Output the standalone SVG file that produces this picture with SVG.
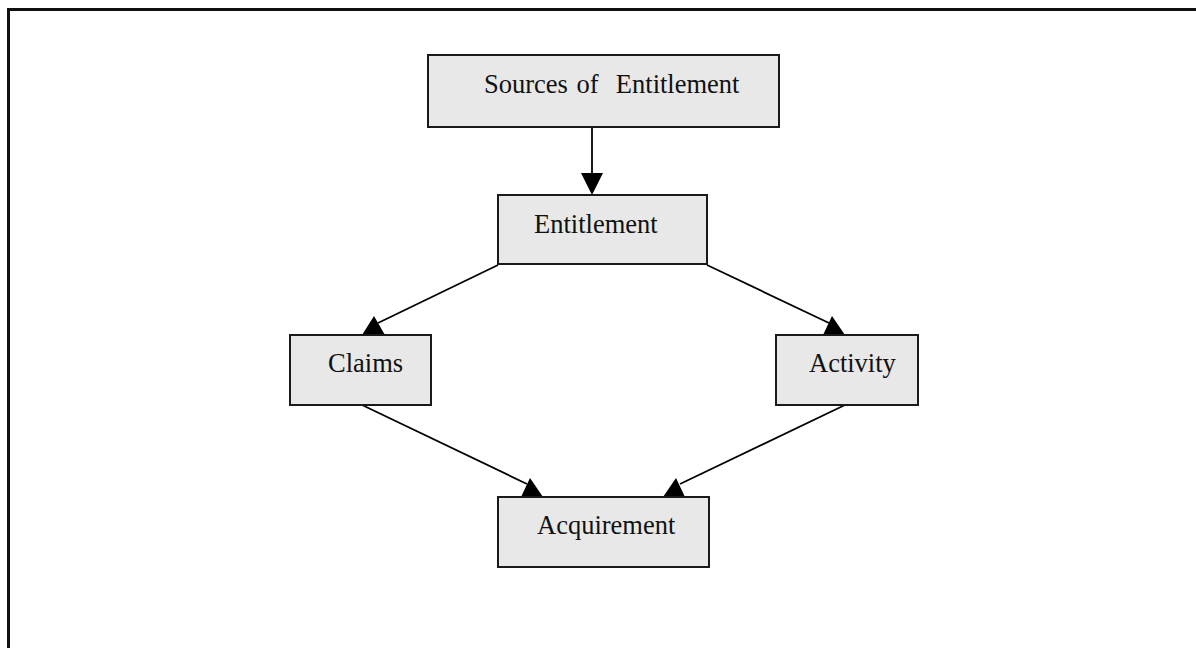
<svg xmlns="http://www.w3.org/2000/svg" width="1196" height="648" viewBox="0 0 1196 648">
<style>
.box{fill:#e8e8e8;stroke:#1a1a1a;stroke-width:2}
.lbl{font-family:"Liberation Serif","Times New Roman",serif;font-size:26.5px;fill:#111}
.ln{stroke:#000;stroke-width:1.8;fill:none}
.ah{fill:#000;stroke:none}
.frame{stroke:#111;stroke-width:3;fill:none}
</style>
<rect width="1196" height="648" fill="#fff"/>
<path class="frame" d="M8.5,648 V9.5 H1196"/>
<g id="connectors">
<line class="ln" x1="592" y1="127" x2="592" y2="174"/>
<polygon class="ah" points="581,173 603,173 592,195"/>
<line class="ln" x1="498" y1="265" x2="378" y2="323"/>
<polygon class="ah" points="362,335 374,316 385,335"/>
<line class="ln" x1="707" y1="265" x2="829" y2="323"/>
<polygon class="ah" points="823,335 832,316 845,335"/>
<line class="ln" x1="360" y1="404" x2="527" y2="484"/>
<polygon class="ah" points="521,497 530,478 543,497"/>
<line class="ln" x1="847" y1="404" x2="680" y2="484"/>
<polygon class="ah" points="663,497 676,478 685,497"/>
</g>
<g id="sources">
<rect class="box" x="428" y="55" width="351" height="72"/>
<text class="lbl" x="484" y="93" xml:space="preserve" word-spacing="2">Sources of  Entitlement</text>
</g>
<g id="entitlement">
<rect class="box" x="498" y="195" width="209" height="69"/>
<text class="lbl" x="534" y="233">Entitlement</text>
</g>
<g id="claims">
<rect class="box" x="290" y="335" width="141" height="70"/>
<text class="lbl" x="328" y="372">Claims</text>
</g>
<g id="activity">
<rect class="box" x="776" y="335" width="142" height="70"/>
<text class="lbl" x="809" y="372">Activity</text>
</g>
<g id="acquirement">
<rect class="box" x="498" y="497" width="211" height="70"/>
<text class="lbl" x="537" y="534">Acquirement</text>
</g>
</svg>
